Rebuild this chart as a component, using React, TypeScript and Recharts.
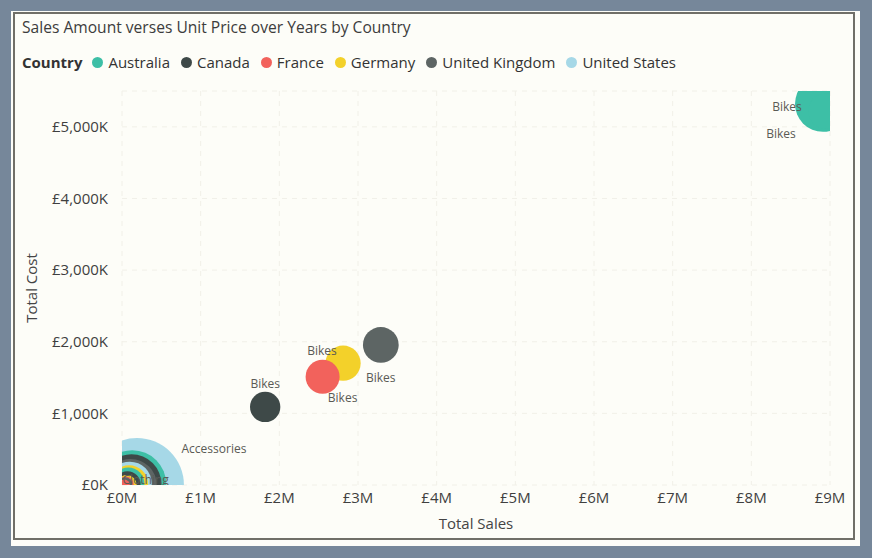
import React from 'react';
import { ScatterChart, Scatter, XAxis, YAxis, ZAxis, CartesianGrid } from 'recharts';

const COUNTRIES = ['Australia', 'Canada', 'France', 'Germany', 'United Kingdom', 'United States'];
const COUNTRY_COLORS = ['#3dbfa6', '#3e4948', '#f2625c', '#f3d12a', '#5d6564', '#a6d8e7'];

// one entry per bubble
const POINT_COUNTRY = [
    'Australia', 'Australia', 'Canada', 'France', 'Germany', 'United Kingdom',
    'United States', 'Australia', 'Canada', 'United Kingdom', 'United States', 'Germany',
    'Australia', 'Canada', 'Germany', 'France', 'United Kingdom', 'France',
];
const POINT_CATEGORY = [
    'Bikes', 'Bikes', 'Bikes', 'Bikes', 'Bikes', 'Bikes',
    'Accessories', 'Accessories', 'Accessories', 'Accessories', 'Clothing', 'Accessories',
    'Clothing', 'Clothing', 'Clothing', 'Accessories', 'Clothing', 'Clothing',
];
const TOTAL_SALES = [
    8910000, 8950000, 1820000, 2550000, 2810000, 3290000,
    190000, 130000, 120000, 110000, 100000, 90000,
    80000, 70000, 60000, 50000, 40000, 30000,
];
const TOTAL_COST = [
    5320000, 5220000, 1090000, 1510000, 1700000, 1955000,
    0, 10000, 10000, 0, 20000, 10000,
    20000, 10000, 0, 10000, 10000, 0,
];
const BUBBLE_SIZE = [
    78, 32, 23, 29, 31, 32,
    221, 116, 90, 68, 48, 36,
    26, 17, 10, 6, 5, 3,
];

const X_TICKS = [0, 1000000, 2000000, 3000000, 4000000, 5000000, 6000000, 7000000, 8000000, 9000000];
const Y_TICKS = [0, 1000000, 2000000, 3000000, 4000000, 5000000];

// which bubbles get a data label, and where it sits relative to the bubble centre
const LABEL_OFFSETS: Record<string, { dx: number; dy: number }> = {
    '0': { dx: -36, dy: 3 },
    '1': { dx: -45, dy: 22 },
    '2': { dx: 0, dy: -23 },
    '3': { dx: 20, dy: 21 },
    '4': { dx: -21, dy: -13 },
    '5': { dx: 0, dy: 33 },
    '6': { dx: 77, dy: -37 },
    '14': { dx: 19, dy: -6 },
};

const points = TOTAL_SALES.map((sales, i) => ({
    id: String(i),
    country: POINT_COUNTRY[i],
    category: POINT_CATEGORY[i],
    sales,
    cost: TOTAL_COST[i],
    size: BUBBLE_SIZE[i],
    color: COUNTRY_COLORS[COUNTRIES.indexOf(POINT_COUNTRY[i])],
}));

// big bubbles behind, small ones on top
const bubbleData = [...points].sort((a, b) => b.size - a.size);
const labelData = points.filter(p => LABEL_OFFSETS[p.id]);

const FONT = '"Segoe UI", "Open Sans", sans-serif';

const Bubble = (props: any) => {
    const { cx, cy, size, payload } = props;
    const r = Math.sqrt(size / Math.PI);
    return <circle cx={cx} cy={cy} r={r} fill={payload.color} />;
};

const BubbleLabel = (props: any) => {
    const { cx, cy, payload } = props;
    const off = LABEL_OFFSETS[payload.id];
    return (
        <text
            x={cx + off.dx}
            y={cy + off.dy}
            textAnchor="middle"
            dominantBaseline="central"
            fontSize={12}
            fontFamily={FONT}
            fill="#5a5a55"
        >
            {payload.category}
        </text>
    );
};

export default function App() {
    return (
        <div style={{ position: 'absolute', left: 0, top: 0, width: 872, height: 558, background: '#76879a', fontFamily: FONT }}>
            <div style={{ position: 'absolute', left: 11, top: 11, width: 849, height: 535, background: '#fdfdf8' }} />
            <div style={{ position: 'absolute', left: 13, top: 12, width: 838, height: 524, border: '2px solid #706f68' }} />

            <div style={{ position: 'absolute', left: 22, top: 16, fontSize: 15.6, color: '#3c3c3c', whiteSpace: 'nowrap' }}>
                Sales Amount verses Unit Price over Years by Country
            </div>

            <div style={{ position: 'absolute', left: 22, top: 52, display: 'flex', alignItems: 'center', fontSize: 15, color: '#333', whiteSpace: 'nowrap' }}>
                <span style={{ fontWeight: 700, marginRight: 10 }}>Country</span>
                {COUNTRIES.map((c, i) => (
                    <span key={c} style={{ display: 'flex', alignItems: 'center', marginRight: 11 }}>
                        <span style={{ width: 11, height: 11, borderRadius: 6, background: COUNTRY_COLORS[i], marginRight: 5 }} />
                        {c}
                    </span>
                ))}
            </div>

            <div style={{ position: 'absolute', left: 0, top: 0 }}>
                <ScatterChart width={872} height={558} margin={{ top: 91, right: 42, bottom: 23, left: 0 }}>
                    <CartesianGrid stroke="#f1f0e8" strokeDasharray="5 5" />
                    <XAxis
                        type="number"
                        dataKey="sales"
                        domain={[0, 9000000]}
                        ticks={X_TICKS}
                        allowDataOverflow
                        axisLine={false}
                        tickLine={false}
                        tickSize={0}
                        tickMargin={7}
                        height={50}
                        tick={{ fill: '#3f3f3f', fontSize: 15, fontFamily: FONT }}
                        tickFormatter={(v: number) => `£${v / 1000000}M`}
                        label={{ value: 'Total Sales', position: 'insideBottom', offset: 6, fill: '#444', fontSize: 15, fontFamily: FONT }}
                    />
                    <YAxis
                        type="number"
                        dataKey="cost"
                        domain={[0, 5500000]}
                        ticks={Y_TICKS}
                        allowDataOverflow
                        axisLine={false}
                        tickLine={false}
                        tickSize={0}
                        tickMargin={14}
                        width={122}
                        tick={{ fill: '#3f3f3f', fontSize: 15, fontFamily: FONT }}
                        tickFormatter={(v: number) => `£${(v / 1000).toLocaleString('en-GB')}K`}
                        label={{ value: 'Total Cost', angle: -90, position: 'insideLeft', offset: 32, fill: '#444', fontSize: 15, fontFamily: FONT, style: { textAnchor: 'middle' } }}
                    />
                    <ZAxis type="number" dataKey="size" domain={[0, 221]} range={[0, 6940]} />
                    <Scatter data={bubbleData} shape={Bubble} isAnimationActive={false} />
                    <Scatter data={labelData} shape={BubbleLabel} isAnimationActive={false} />
                </ScatterChart>
            </div>
        </div>
    );
}
